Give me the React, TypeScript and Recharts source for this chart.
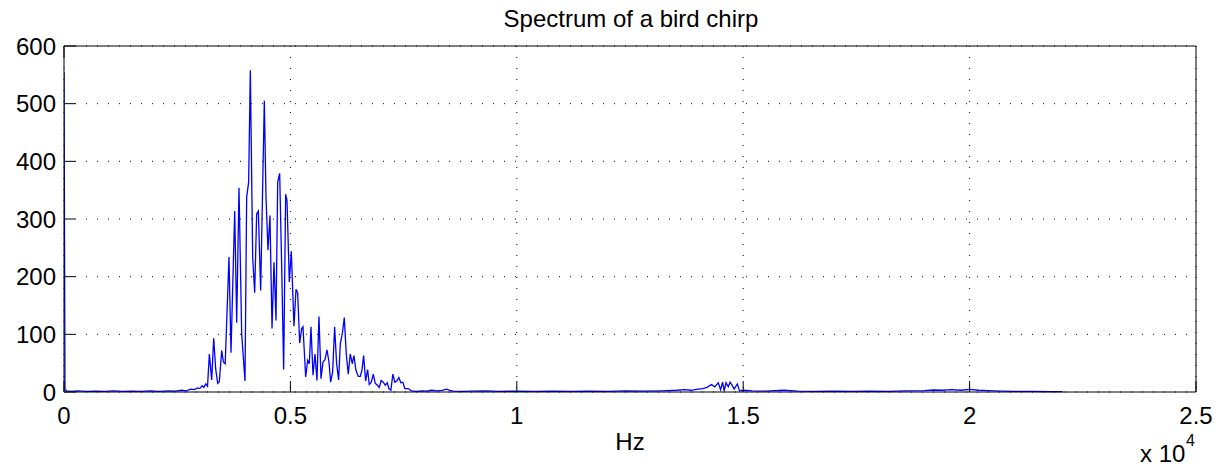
import React from "react";
import { CartesianGrid, Line, LineChart, XAxis, YAxis } from "recharts";

// FFT magnitude of the chirp recording, sampled at the bins that shape the curve
export const hz = [
  0, 22, 60, 150, 300, 500, 700, 900, 1100, 1300, 1500, 1700, 1900, 2100, 2300,
  2450, 2600, 2700, 2800, 2880, 2950, 3000, 3050, 3090, 3130, 3170, 3210, 3262,
  3306, 3350, 3394, 3430, 3483, 3520, 3560, 3644, 3688, 3770, 3814, 3865, 3924,
  3997, 4034, 4078, 4115, 4167, 4211, 4255, 4292, 4343, 4424, 4461, 4505, 4549,
  4594, 4638, 4682, 4719, 4763, 4807, 4851, 4895, 4925, 4976, 5020, 5079, 5124,
  5160, 5205, 5249, 5278, 5337, 5382, 5418, 5455, 5499, 5543, 5587, 5631, 5676,
  5720, 5764, 5808, 5852, 5889, 5933, 5977, 6021, 6065, 6102, 6146, 6190, 6234,
  6278, 6322, 6366, 6403, 6447, 6499, 6543, 6580, 6617, 6661, 6705, 6742, 6786,
  6830, 6874, 6918, 6962, 7006, 7050, 7094, 7139, 7175, 7219, 7263, 7307, 7351,
  7395, 7439, 7484, 7528, 7601, 7675, 7785, 7900, 8000, 8120, 8250, 8350, 8450,
  8520, 8600, 8800, 9000, 9335, 9600, 10000, 10400, 10800, 11200, 11600, 12000,
  12400, 12800, 13200, 13540, 13700, 13850, 14000, 14110, 14200, 14300, 14370,
  14450, 14500, 14545, 14580, 14620, 14670, 14710, 14760, 14800, 14870, 14920,
  15000, 15200, 15500, 15900, 16200, 16600, 17000, 17400, 17800, 18200, 18600,
  19000, 19200, 19400, 19600, 19800, 20000, 20200, 20400, 20700, 21000, 21400,
  21800, 22050,
];

export const magnitude = [
  555, 4, 2, 1, 2, 1, 1.5, 1, 2, 1, 1.5, 1, 2, 1, 2,
  1.5, 3, 2, 5, 4, 7, 6, 11, 8, 14, 10, 66, 21,
  93, 40, 15, 18, 72, 52, 49, 234, 68, 314, 120, 354, 101,
  19, 338, 364, 558, 234, 172, 309, 314, 176, 505, 338, 246, 306,
  110, 225, 124, 364, 379, 220, 39, 343, 332, 191, 244, 114, 178,
  172, 85, 110, 113, 26, 55, 49, 113, 29, 66, 20, 131, 23,
  52, 56, 73, 52, 17, 35, 113, 49, 21, 84, 101, 129, 66,
  31, 66, 49, 63, 38, 27, 27, 38, 63, 19, 39, 13, 17,
  31, 15, 12, 8, 20, 17, 12, 16, 6, 3, 31, 17, 19,
  25, 16, 17, 6, 6, 2, 1, 2, 1.5, 3, 2, 3, 5,
  3, 1.5, 1, 1.5, 2, 1, 1.5, 1, 1.5, 1, 1.5, 1,
  2, 1.5, 2, 3, 4, 3, 5, 6, 8, 13, 9,
  16, 4, 17, 2, 16, 9, 17, 11, 5, 14, 2,
  3, 2, 1.5, 3, 1.5, 1, 1.5, 1, 1.5, 1, 2,
  2.5, 3.5, 3, 4, 3, 4.5, 3, 2.5, 1.5, 1, 1,
  0.5, 0.5,
];

export const xTicks = [0, 5000, 10000, 15000, 20000, 25000];
export const yTicks = [0, 100, 200, 300, 400, 500, 600];

const data = hz.map((f, i) => ({ hz: f, mag: magnitude[i] }));

const FONT = "'Liberation Sans', Arial, Helvetica, sans-serif";
const FS = 24;
const GAP = 14; // distance from axis line to label anchor
const TICK = 11; // inward tick length

// MATLAB-style ticks: short marks pointing into the plot, labels outside
const BottomTick = (props: any) => {
  const { x, y, payload } = props;
  const axisY = y - GAP;
  return (
    <g>
      <line x1={x} x2={x} y1={axisY} y2={axisY - TICK} stroke="#000" strokeWidth={1} />
      <text x={x} y={y + 1} dy="0.71em" textAnchor="middle" fontSize={FS} fill="#000" fontFamily={FONT}>
        {String(payload.value / 10000)}
      </text>
    </g>
  );
};

const LeftTick = (props: any) => {
  const { x, y, payload } = props;
  const axisX = x + GAP;
  return (
    <g>
      <line x1={axisX} x2={axisX + TICK} y1={y} y2={y} stroke="#000" strokeWidth={1} />
      <text x={axisX - 8} y={y} dy="0.355em" textAnchor="end" fontSize={FS} fill="#000" fontFamily={FONT}>
        {payload.value}
      </text>
    </g>
  );
};

const TopTick = (props: any) => {
  const { x, y } = props;
  const axisY = y + GAP;
  return <line x1={x} x2={x} y1={axisY} y2={axisY + TICK} stroke="#000" strokeWidth={1} />;
};

const RightTick = (props: any) => {
  const { x, y } = props;
  const axisX = x - GAP;
  return <line x1={axisX} x2={axisX - TICK} y1={y} y2={y} stroke="#000" strokeWidth={1} />;
};

export default function App() {
  return (
    <div style={{ position: "absolute", left: 0, top: 0, width: 1232, height: 467, background: "#fff" }}>
      <LineChart
        width={1232}
        height={467}
        data={data}
        margin={{ top: 45, right: 35, left: 0, bottom: 0 }}
      >
        <CartesianGrid stroke="#000" strokeDasharray="1 10" />
        <XAxis
          dataKey="hz"
          type="number"
          domain={[0, 25000]}
          ticks={xTicks}
          allowDataOverflow
          height={75}
          stroke="#000"
          tickLine={false}
          tickSize={0}
          tickMargin={GAP}
          tick={<BottomTick />}
          interval={0}
        />
        <XAxis
          xAxisId="top"
          orientation="top"
          type="number"
          domain={[0, 25000]}
          ticks={xTicks}
          height={1}
          stroke="#000"
          tickLine={false}
          tickSize={0}
          tickMargin={GAP}
          tick={<TopTick />}
          interval={0}
        />
        <YAxis
          type="number"
          domain={[0, 600]}
          ticks={yTicks}
          width={64}
          stroke="#000"
          tickLine={false}
          tickSize={0}
          tickMargin={GAP}
          tick={<LeftTick />}
          interval={0}
        />
        <YAxis
          yAxisId="right"
          orientation="right"
          type="number"
          domain={[0, 600]}
          ticks={yTicks}
          width={1}
          stroke="#000"
          tickLine={false}
          tickSize={0}
          tickMargin={GAP}
          tick={<RightTick />}
          interval={0}
        />
        <Line
          type="linear"
          dataKey="mag"
          stroke="#0000ff"
          strokeWidth={1.3}
          dot={false}
          isAnimationActive={false}
        />
      </LineChart>
      <svg
        width={1232}
        height={467}
        style={{ position: "absolute", left: 0, top: 0, pointerEvents: "none" }}
        fontFamily={FONT}
      >
        <text x={631} y={27} textAnchor="middle" fontSize={FS} fill="#000">
          Spectrum of a bird chirp
        </text>
        <text x={630} y={450} textAnchor="middle" fontSize={FS} fill="#000">
          Hz
        </text>
        <text x={1140} y={462} fontSize={FS} fill="#000">
          x 10
        </text>
        <text x={1186} y={446} fontSize={16} fill="#000">
          4
        </text>
      </svg>
    </div>
  );
}
